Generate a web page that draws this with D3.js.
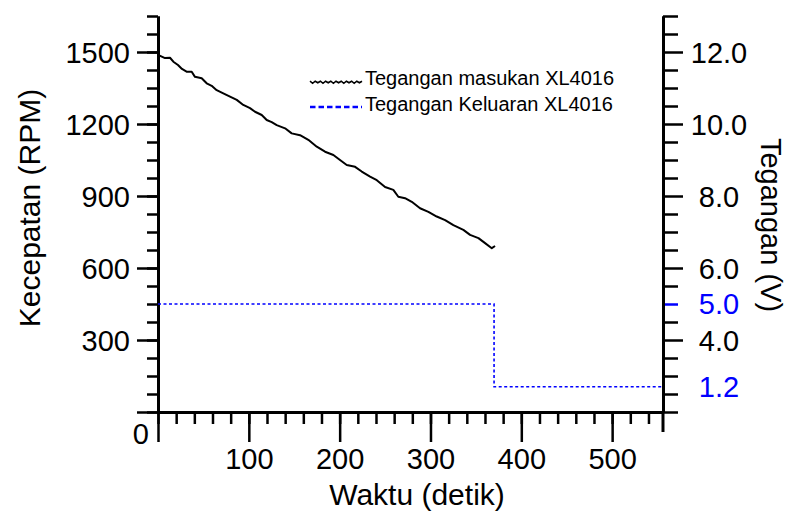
<!DOCTYPE html>
<html>
<head>
<meta charset="utf-8">
<script src="https://cdn.jsdelivr.net/npm/d3@7"></script>
<style>
    body { margin: 0; background: #fff; }
    svg text { font-family: "Liberation Sans", Arial, sans-serif; }
</style>
</head>
<body>
<div id="chart"></div>
<script>
// input voltage (V), time in seconds
const inputTime = [0, 7.7, 13.2, 16.9, 22, 26.4, 31.9, 37.1, 40.7, 48.1, 53.6, 59.1, 64.6, 71.9, 79.3, 86.7, 93.9,
    101.3, 106.8, 114.2, 119.7, 125.2, 130.7, 139.9, 147.2, 156.4, 165.5, 174.8, 183.9, 193.1, 200.4, 207.8,
    217, 224.3, 233.5, 240.9, 250, 259.1, 264.6, 272, 279.4, 288.5, 297.7, 306.9, 316.1, 325.2, 336.2, 343.6,
    352.8, 360.1, 367.5, 371.1];
const inputVolt = [11.92, 11.83, 11.84, 11.73, 11.64, 11.53, 11.45, 11.45, 11.31, 11.27, 11.13, 11.06, 10.94, 10.85,
    10.76, 10.67, 10.53, 10.44, 10.34, 10.25, 10.11, 10.05, 9.97, 9.88, 9.74, 9.69, 9.56, 9.37, 9.23, 9.14, 9.0,
    8.86, 8.81, 8.68, 8.54, 8.44, 8.25, 8.17, 7.98, 7.94, 7.84, 7.66, 7.56, 7.43, 7.33, 7.19, 7.06, 6.92, 6.83,
    6.69, 6.55, 6.61];

// output voltage, stepped
const outputTime = [0, 370, 370, 556];
const outputVolt = [5.0, 5.0, 2.7, 2.7];
const outputLabels = ["5.0", "1.2"];
const outputLabelVolt = [5.0, 2.7];

const rpmTicks = [0, 300, 600, 900, 1200, 1500];
const timeTicks = [0, 100, 200, 300, 400, 500];
const voltTicks = [4, 6, 8, 10, 12];
const legendLabels = ["Tegangan masukan XL4016", "Tegangan Keluaran XL4016"];

const width = 790, height = 512;
const margin = { top: 16, right: 127, bottom: 100, left: 158 };
const plotW = width - margin.left - margin.right,
    plotH = height - margin.top - margin.bottom;

const svg = d3.select("#chart").append("svg")
    .attr("width", width)
    .attr("height", height);

const x = d3.scaleLinear().domain([0, 556]).range([margin.left, margin.left + plotW]);
const yL = d3.scaleLinear().domain([0, 1650]).range([margin.top + plotH, margin.top]);
const yR = d3.scaleLinear().domain([2, 13]).range([margin.top + plotH, margin.top]);

const font = '"Liberation Sans", Arial, sans-serif';

function styleAxis(g) {
    g.attr("font-family", font).attr("font-size", 29);
    g.selectAll("line").attr("stroke", "#000").attr("stroke-width", 2.5);
    g.select(".domain").attr("stroke", "#000").attr("stroke-width", 3);
    g.selectAll("text").attr("fill", "#000");
}

// left axis
svg.append("g")
    .attr("transform", `translate(${margin.left},0)`)
    .call(d3.axisLeft(yL).tickValues(d3.range(0, 1651, 75)).tickSize(11).tickSizeOuter(0).tickFormat(""))
    .call(styleAxis);
const leftMajor = svg.append("g")
    .attr("transform", `translate(${margin.left},0)`)
    .call(d3.axisLeft(yL).tickValues(rpmTicks).tickSize(21).tickPadding(7).tickSizeOuter(0)
        .tickFormat(d3.format("d")))
    .call(styleAxis);
leftMajor.selectAll(".tick text").attr("dy", "0.35em");
leftMajor.selectAll(".tick").filter(d => d === 0).select("text")
    .attr("x", -9).attr("y", 21);

// bottom axis
svg.append("g")
    .attr("transform", `translate(0,${margin.top + plotH})`)
    .call(d3.axisBottom(x).tickValues(d3.range(0, 557, 20)).tickSize(12).tickSizeOuter(0).tickFormat(""))
    .call(styleAxis);
svg.append("g")
    .attr("transform", `translate(0,${margin.top + plotH})`)
    .call(d3.axisBottom(x).tickValues(timeTicks).tickSize(30).tickPadding(6).tickSizeOuter(0)
        .tickFormat(d => d === 0 ? "" : d))
    .call(styleAxis);

// right axis
const rightMinor = svg.append("g")
    .attr("transform", `translate(${margin.left + plotW},0)`)
    .call(d3.axisRight(yR).tickValues(d3.range(2, 13.01, 0.5).filter(v => !voltTicks.includes(v)))
        .tickSize(15).tickSizeOuter(0).tickFormat(""))
    .call(styleAxis);
rightMinor.selectAll(".tick").filter(d => d === outputLabelVolt[0]).select("line").attr("stroke", "#0000ff");
const rightMajor = svg.append("g")
    .attr("transform", `translate(${margin.left + plotW},0)`)
    .call(d3.axisRight(yR).tickValues(voltTicks).tickSize(20).tickSizeOuter(0).tickFormat(d3.format(".1f")))
    .call(styleAxis);
rightMajor.selectAll(".tick text").attr("x", 56).attr("dy", "0.35em").attr("text-anchor", "middle");
svg.append("line")
    .attr("x1", margin.left + plotW).attr("x2", margin.left + plotW)
    .attr("y1", yR(2)).attr("y2", yR(2) + 20)
    .attr("stroke", "#000").attr("stroke-width", 3);

svg.selectAll(".out-label")
    .data(outputLabels)
    .enter().append("text")
    .attr("class", "out-label")
    .attr("x", margin.left + plotW + 56)
    .attr("y", (d, i) => yR(outputLabelVolt[i]))
    .attr("dy", "0.35em")
    .attr("text-anchor", "middle")
    .attr("font-size", 29)
    .attr("fill", "#0000ff")
    .text(d => d);

// series
const inputLine = d3.line()
    .x((d, i) => x(inputTime[i]))
    .y(d => yR(d));
svg.append("path")
    .datum(inputVolt)
    .attr("fill", "none")
    .attr("stroke", "#000")
    .attr("stroke-width", 2)
    .attr("stroke-linejoin", "round")
    .attr("d", inputLine);

const outputLine = d3.line()
    .x((d, i) => x(outputTime[i]))
    .y(d => yR(d));
svg.append("path")
    .datum(outputVolt)
    .attr("fill", "none")
    .attr("stroke", "#0000ff")
    .attr("stroke-width", 1.6)
    .attr("stroke-dasharray", "3,2.5")
    .attr("d", outputLine);

// axis titles
svg.append("text")
    .attr("transform", "translate(40,208) rotate(-90)")
    .attr("text-anchor", "middle")
    .attr("font-size", 30)
    .text("Kecepatan (RPM)");
svg.append("text")
    .attr("transform", "translate(761,225) rotate(90)")
    .attr("text-anchor", "middle")
    .attr("font-size", 29)
    .text("Tegangan (V)");
svg.append("text")
    .attr("x", 417)
    .attr("y", 505)
    .attr("text-anchor", "middle")
    .attr("font-size", 30)
    .text("Waktu (detik)");

// legend
const legend = svg.append("g").attr("transform", "translate(310,0)");
const wiggle = d3.range(0, 21).map(i => [i * 2.6, 82 + (i % 2 ? 1.3 : -1.3) * (i % 4 === 1 ? 1 : 0.6)]);
legend.append("path")
    .attr("d", d3.line()(wiggle))
    .attr("fill", "none")
    .attr("stroke", "#000")
    .attr("stroke-width", 1.6);
legend.append("line")
    .attr("x1", 0).attr("x2", 52)
    .attr("y1", 107).attr("y2", 107)
    .attr("stroke", "#0000ff")
    .attr("stroke-width", 2.6)
    .attr("stroke-dasharray", "5.5,3");
legend.selectAll(".leg-text")
    .data(legendLabels)
    .enter().append("text")
    .attr("class", "leg-text")
    .attr("x", 55)
    .attr("y", (d, i) => 85 + i * 25.5)
    .attr("font-size", 20)
    .text(d => d);
</script>
</body>
</html>
